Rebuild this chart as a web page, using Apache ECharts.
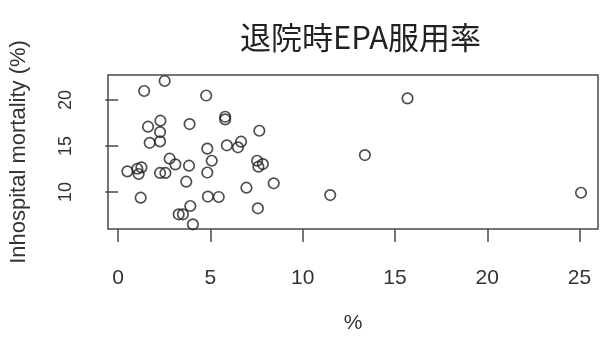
<!DOCTYPE html>
<html>
<head>
<meta charset="utf-8">
<script src="https://cdn.jsdelivr.net/npm/echarts@6/dist/echarts.min.js"></script>
<style>
  html, body { margin: 0; padding: 0; background: #fff; }
  #chart { width: 604px; height: 348px; }
</style>
</head>
<body>
<div id="chart"></div>
<script>
// EPA prescription rate at discharge (%) per hospital
const epaRate = [2.52, 1.41, 4.77, 5.80, 5.80, 1.62, 2.29, 3.87, 2.27, 1.71, 2.27, 4.83, 5.89, 2.79, 3.10,
  3.84, 5.07, 4.83, 0.50, 1.04, 1.26, 1.11, 2.27, 2.56, 3.69, 1.22, 4.86, 5.45, 3.91, 3.28, 3.51, 4.05,
  7.65, 6.66, 6.49, 7.53, 7.84, 7.60, 8.43, 6.95, 7.57, 15.68, 13.37, 11.49, 25.08];
// In-hospital mortality (%) for the same hospitals
const mortality = [22.07, 20.98, 20.49, 18.18, 17.90, 17.10, 17.75, 17.39, 16.52, 15.35, 15.51, 14.71, 15.08, 13.62, 13.01,
  12.86, 13.40, 12.12, 12.25, 12.53, 12.68, 11.96, 12.07, 12.07, 11.12, 9.38, 9.51, 9.46, 8.48, 7.58, 7.58, 6.49,
  16.66, 15.47, 14.86, 13.40, 13.04, 12.75, 10.95, 10.47, 8.23, 20.18, 14.02, 9.67, 9.92];

const xTicks = [0, 5, 10, 15, 20, 25];
const yTicks = [10, 15, 20];

const titleText = '退院時EPA服用率';
const xName = '%';
const yName = 'Inhospital mortality (%)';

const points = epaRate.map((x, i) => [x, mortality[i]]);

const axisColor = '#4a4a4a';
const labelColor = '#333';
const latin = 'Liberation Sans, Arial, sans-serif';

const chart = echarts.init(document.getElementById('chart'), null, { renderer: 'canvas' });
chart.setOption({
  animation: false,
  backgroundColor: '#fff',
  title: {
    text: titleText,
    left: 235,
    top: 17,
    textStyle: {
      fontFamily: 'Noto Sans CJK JP',
      fontSize: 31,
      fontWeight: 'normal',
      color: '#222'
    }
  },
  grid: {
    left: 107, right: 6, top: 75, bottom: 119,
    show: true,
    borderColor: axisColor,
    borderWidth: 1.5,
    backgroundColor: 'transparent'
  },
  xAxis: {
    type: 'value',
    min: -0.55,
    max: 26.0,
    name: xName,
    nameLocation: 'middle',
    nameGap: 84,
    nameTextStyle: { fontFamily: latin, fontSize: 21, color: labelColor },
    axisLine: { show: false },
    splitLine: { show: false },
    axisTick: {
      show: true,
      inside: false,
      length: 13,
      customValues: xTicks,
      lineStyle: { color: axisColor, width: 1.5 }
    },
    axisLabel: {
      customValues: xTicks,
      margin: 39,
      fontFamily: latin,
      fontSize: 21,
      color: labelColor
    }
  },
  yAxis: {
    type: 'value',
    min: 5.98,
    max: 22.72,
    name: yName,
    nameLocation: 'middle',
    nameRotate: 90,
    nameGap: 78,
    nameTextStyle: { fontFamily: latin, fontSize: 22, color: labelColor },
    axisLine: { show: false },
    splitLine: { show: false },
    axisTick: {
      show: true,
      inside: false,
      length: 13,
      customValues: yTicks,
      lineStyle: { color: axisColor, width: 1.5 }
    },
    axisLabel: {
      customValues: yTicks,
      rotate: 90,
      margin: 33,
      fontFamily: latin,
      fontSize: 18,
      color: labelColor
    }
  },
  series: [{
    type: 'scatter',
    data: points,
    symbol: 'circle',
    symbolSize: 10.5,
    itemStyle: {
      color: 'transparent',
      borderColor: '#222',
      borderWidth: 1.7
    }
  }]
});
</script>
</body>
</html>
